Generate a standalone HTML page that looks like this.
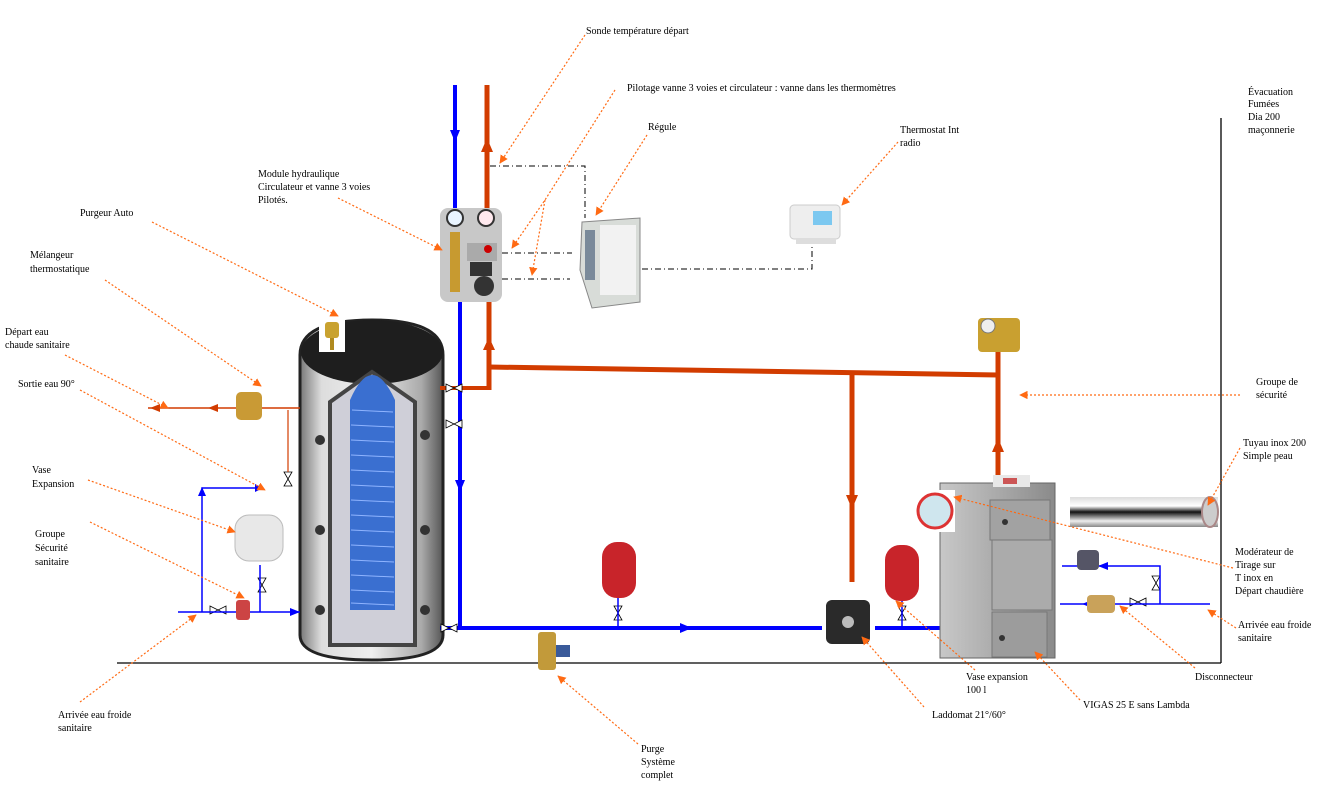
<!DOCTYPE html>
<html><head><meta charset="utf-8"><style>
html,body{margin:0;padding:0;background:#fff}
svg{display:block}
text{font-family:"Liberation Serif",serif;font-size:10px;fill:#000}
.ld{stroke:#ff6a13;stroke-width:1.2;stroke-dasharray:2 2;fill:none}
.bl{stroke:#0000ff;stroke-width:4;fill:none}
.bt{stroke:#0000ff;stroke-width:1.5;fill:none}
.rd{stroke:#d23c00;stroke-width:5;fill:none}
.dd{stroke:#000;stroke-width:1;stroke-dasharray:6 3 1 3;fill:none}
</style></head><body>
<svg width="1337" height="801" viewBox="0 0 1337 801" xmlns="http://www.w3.org/2000/svg">
<defs>
<marker id="oa" viewBox="0 0 10 10" refX="9" refY="5" markerWidth="7" markerHeight="7" orient="auto"><path d="M0,0L10,5L0,10z" fill="#ff6a13"/></marker>
<linearGradient id="tk" x1="0" x2="1"><stop offset="0" stop-color="#777"/><stop offset=".15" stop-color="#ddd"/><stop offset=".5" stop-color="#eee"/><stop offset=".85" stop-color="#aaa"/><stop offset="1" stop-color="#555"/></linearGradient>
<linearGradient id="bo" x1="0" x2="1"><stop offset="0" stop-color="#c8c8c8"/><stop offset=".5" stop-color="#aaa"/><stop offset="1" stop-color="#8a8a8a"/></linearGradient>
<linearGradient id="px" x1="0" y1="0" x2="0" y2="1"><stop offset="0" stop-color="#ddd"/><stop offset=".3" stop-color="#fff"/><stop offset=".5" stop-color="#111"/><stop offset=".8" stop-color="#eee"/><stop offset="1" stop-color="#888"/></linearGradient>
</defs>

<line x1="117" y1="663" x2="1221" y2="663" stroke="#000" stroke-width="1.3"/>
<line x1="1221" y1="118" x2="1221" y2="663" stroke="#000" stroke-width="1.3"/>

<!-- tank -->
<path d="M300,355 Q300,320 372,320 Q443,320 443,355 L443,635 Q443,660 372,660 Q300,660 300,635 Z" fill="url(#tk)" stroke="#222" stroke-width="3"/>
<ellipse cx="372" cy="352" rx="71" ry="32" fill="#1e1e1e"/>
<path d="M330,402 L372,372 L415,402 L415,645 L330,645 Z" fill="#cfcfd8" stroke="#444" stroke-width="4"/>
<path d="M350,400 Q372,350 395,400 L395,610 L350,610 Z" fill="#3a6fd0"/>
<g stroke="#8fb4ff" stroke-width="1">
<line x1="352" y1="410" x2="393" y2="412"/><line x1="351" y1="425" x2="394" y2="427"/><line x1="351" y1="440" x2="394" y2="442"/><line x1="351" y1="455" x2="394" y2="457"/><line x1="351" y1="470" x2="394" y2="472"/><line x1="351" y1="485" x2="394" y2="487"/><line x1="351" y1="500" x2="394" y2="502"/><line x1="351" y1="515" x2="394" y2="517"/><line x1="351" y1="530" x2="394" y2="532"/><line x1="351" y1="545" x2="394" y2="547"/><line x1="351" y1="560" x2="394" y2="562"/><line x1="351" y1="575" x2="394" y2="577"/><line x1="351" y1="590" x2="394" y2="592"/><line x1="351" y1="603" x2="394" y2="605"/></g>
<g fill="#333"><circle cx="320" cy="440" r="5"/><circle cx="320" cy="530" r="5"/><circle cx="320" cy="610" r="5"/><circle cx="425" cy="435" r="5"/><circle cx="425" cy="530" r="5"/><circle cx="425" cy="610" r="5"/></g>
<rect x="319" y="318" width="26" height="34" fill="#fff"/>
<rect x="325" y="322" width="14" height="16" rx="3" fill="#c9a230"/><rect x="330" y="338" width="4" height="12" fill="#b08a20"/>

<!-- blue pipes -->
<line class="bl" x1="455" y1="85" x2="455" y2="210"/>
<path d="M450,130 L460,130 L455,142z" fill="#00f"/>
<line class="bl" x1="460" y1="300" x2="460" y2="630"/>
<path d="M455,480 L465,480 L460,492z" fill="#00f"/>
<line class="bl" x1="440" y1="628" x2="822" y2="628"/>
<path d="M680,623 L680,633 L692,628z" fill="#00f"/>
<line class="bl" x1="875" y1="628" x2="963" y2="628"/>
<!-- red pipes -->
<line class="rd" x1="487" y1="85" x2="487" y2="210"/>
<path d="M481,152 L493,152 L487,138z" fill="#d23c00"/>
<line class="rd" x1="489" y1="300" x2="489" y2="390"/>
<path d="M483,350 L495,350 L489,337z" fill="#d23c00"/>
<line x1="440" y1="388" x2="489" y2="388" stroke="#d23c00" stroke-width="4"/>
<path class="rd" d="M489,367 L998,375"/>
<line class="rd" x1="852" y1="373" x2="852" y2="582"/>
<path d="M846,495 L858,495 L852,509z" fill="#d23c00"/>
<line class="rd" x1="998" y1="345" x2="998" y2="478"/>
<path d="M992,452 L1004,452 L998,438z" fill="#d23c00"/>
<g stroke="#000" stroke-width=".8" fill="#fff">
<path d="M446,384 L462,392 L462,384 L446,392z"/><path d="M446,420 L462,428 L462,420 L446,428z"/><path d="M441,624 L457,632 L457,624 L441,632z"/>
<path d="M284,472 L292,486 L284,486 L292,472z"/>
<path d="M258,578 L266,592 L258,592 L266,578z"/>
<path d="M210,606 L226,614 L226,606 L210,614z"/>
<path d="M614,606 L622,620 L614,620 L622,606z"/>
<path d="M898,606 L906,620 L898,620 L906,606z"/>
<path d="M1152,576 L1160,590 L1152,590 L1160,576z"/>
<path d="M1130,598 L1146,606 L1146,598 L1130,606z"/>
</g>

<!-- sanitary side -->
<line x1="148" y1="408" x2="300" y2="408" stroke="#d23c00" stroke-width="1.5"/>
<path d="M160,404 L160,412 L150,408z M218,404 L218,412 L208,408z" fill="#d23c00"/>
<line x1="288" y1="410" x2="288" y2="472" stroke="#d23c00" stroke-width="1.2"/>
<rect x="236" y="392" width="26" height="28" rx="5" fill="#c99a35"/>
<path class="bt" d="M178,612 L300,612 M202,612 L202,488 L262,488"/>
<path d="M198,496 L206,496 L202,487z M255,484 L255,492 L263,488z M290,608 L290,616 L300,612z" fill="#00f"/>
<path class="bt" d="M260,612 L260,565"/>
<rect x="235" y="515" width="48" height="46" rx="14" fill="#e8e8e8" stroke="#bbb"/>
<rect x="236" y="600" width="14" height="20" rx="3" fill="#c44"/>
<rect x="602" y="542" width="34" height="56" rx="15" fill="#c8242a"/>
<line x1="618" y1="598" x2="618" y2="628" stroke="#00f" stroke-width="1.5"/>
<rect x="885" y="545" width="34" height="56" rx="15" fill="#c8242a"/>
<line x1="902" y1="601" x2="902" y2="628" stroke="#00f" stroke-width="1.5"/>
<rect x="538" y="632" width="18" height="38" rx="3" fill="#c29a3a"/><rect x="556" y="645" width="14" height="12" fill="#3a5a9a"/>
<rect x="826" y="600" width="44" height="44" rx="6" fill="#2a2a2a"/><circle cx="848" cy="622" r="6" fill="#bbb"/>

<!-- boiler -->
<rect x="940" y="483" width="115" height="175" fill="url(#bo)" stroke="#666"/>
<rect x="993" y="475" width="37" height="12" fill="#e8e8e8"/>
<rect x="1003" y="478" width="14" height="6" fill="#c55"/>
<rect x="990" y="500" width="60" height="40" fill="#a2a2a2" stroke="#777"/>
<rect x="992" y="540" width="60" height="70" fill="#ababab" stroke="#777"/>
<rect x="992" y="612" width="55" height="45" fill="#9c9c9c" stroke="#777"/>
<circle cx="1005" cy="522" r="3" fill="#333"/><circle cx="1002" cy="638" r="3" fill="#333"/>
<rect x="915" y="490" width="40" height="42" fill="#fff"/>
<circle cx="935" cy="511" r="17" fill="#cfe6ee" stroke="#d33" stroke-width="3"/>
<rect x="1070" y="497" width="148" height="30" fill="url(#px)"/>
<ellipse cx="1210" cy="512" rx="8" ry="15" fill="#ccc" stroke="#a88" stroke-width="2"/>
<path class="bt" d="M1060,604 L1210,604 M1160,604 L1160,566 L1062,566"/>
<path d="M1108,562 L1108,570 L1098,566z M1092,600 L1092,608 L1082,604z" fill="#00f"/>
<rect x="1087" y="595" width="28" height="18" rx="4" fill="#c9a25a"/>
<rect x="1077" y="550" width="22" height="20" rx="4" fill="#556"/>
<rect x="978" y="318" width="42" height="34" rx="4" fill="#c9a030"/><circle cx="988" cy="326" r="7" fill="#eee" stroke="#777"/>

<!-- hydraulic module -->
<rect x="440" y="208" width="62" height="94" rx="8" fill="#c8c8c8"/>
<circle cx="455" cy="218" r="8" fill="#e9f4ff" stroke="#333" stroke-width="2"/>
<circle cx="486" cy="218" r="8" fill="#ffe9ee" stroke="#333" stroke-width="2"/>
<rect x="450" y="232" width="10" height="60" fill="#c79a30"/>
<rect x="467" y="243" width="30" height="18" fill="#aaa"/><circle cx="488" cy="249" r="4" fill="#c00"/>
<rect x="470" y="262" width="22" height="14" fill="#333"/>
<circle cx="484" cy="286" r="10" fill="#333"/>
<!-- regulator -->
<path d="M582,222 L640,218 L640,302 L592,308 L580,270 Z" fill="#d8dcd8" stroke="#888"/>
<rect x="600" y="225" width="36" height="70" fill="#f2f2f2"/>
<rect x="585" y="230" width="10" height="50" fill="#7a8a9a"/>
<rect x="790" y="205" width="50" height="34" rx="4" fill="#eee" stroke="#ccc"/><rect x="813" y="211" width="19" height="14" fill="#7cc8f0"/>
<rect x="796" y="239" width="40" height="5" fill="#ddd"/>

<path class="dd" d="M490,166 L585,166 L585,218"/>
<path class="dd" d="M502,253 L572,253"/>
<path class="dd" d="M502,279 L570,279"/>
<path class="dd" d="M642,269 L812,269 L812,246"/>

<g class="ld" marker-end="url(#oa)">
<path d="M585,35 L500,163"/>
<path d="M615,90 L545,200 L512,248"/>
<path d="M545,200 L532,275"/>
<path d="M647,135 L596,215"/>
<path d="M898,142 L842,205"/>
<path d="M338,198 L442,250"/>
<path d="M152,222 L338,316"/>
<path d="M105,280 L261,386"/>
<path d="M65,355 L168,408"/>
<path d="M80,390 L265,490"/>
<path d="M88,480 L235,532"/>
<path d="M90,522 L244,598"/>
<path d="M80,702 L196,615"/>
<path d="M638,744 L558,676"/>
<path d="M924,707 L862,637"/>
<path d="M975,670 L896,601"/>
<path d="M1080,700 L1035,652"/>
<path d="M1195,668 L1120,606"/>
<path d="M1236,628 L1208,610"/>
<path d="M1233,568 L954,497"/>
<path d="M1240,448 L1208,505"/>
<path d="M1240,395 L1020,395"/>
</g>

<text x="586" y="34">Sonde température départ</text>
<text x="627" y="91">Pilotage vanne 3 voies et circulateur : vanne dans les thermomètres</text>
<text x="648" y="130">Régule</text>
<text x="900" y="133">Thermostat Int</text><text x="900" y="146">radio</text>
<text x="1248" y="95">Évacuation</text><text x="1248" y="107">Fumées</text><text x="1248" y="120">Dia 200</text><text x="1248" y="133">maçonnerie</text>
<text x="258" y="177">Module hydraulique</text><text x="258" y="190">Circulateur et vanne 3 voies</text><text x="258" y="203">Pilotés.</text>
<text x="80" y="216">Purgeur Auto</text>
<text x="30" y="258">Mélangeur</text><text x="30" y="272">thermostatique</text>
<text x="5" y="335">Départ eau</text><text x="5" y="348">chaude sanitaire</text>
<text x="18" y="387">Sortie eau 90°</text>
<text x="32" y="473">Vase</text><text x="32" y="487">Expansion</text>
<text x="35" y="537">Groupe</text><text x="35" y="551">Sécurité</text><text x="35" y="565">sanitaire</text>
<text x="58" y="718">Arrivée eau froide</text><text x="58" y="731">sanitaire</text>
<text x="641" y="752">Purge</text><text x="641" y="765">Système</text><text x="641" y="778">complet</text>
<text x="932" y="718">Laddomat 21°/60°</text>
<text x="966" y="680">Vase expansion</text><text x="966" y="693">100 l</text>
<text x="1083" y="708">VIGAS 25 E sans Lambda</text>
<text x="1195" y="680">Disconnecteur</text>
<text x="1238" y="628">Arrivée eau froide</text><text x="1238" y="641">sanitaire</text>
<text x="1235" y="555">Modérateur de</text><text x="1235" y="568">Tirage sur</text><text x="1235" y="581">T inox en</text><text x="1235" y="594">Départ chaudière</text>
<text x="1243" y="446">Tuyau inox 200</text><text x="1243" y="459">Simple peau</text>
<text x="1256" y="385">Groupe de</text><text x="1256" y="398">sécurité</text>
</svg>
</body></html>
